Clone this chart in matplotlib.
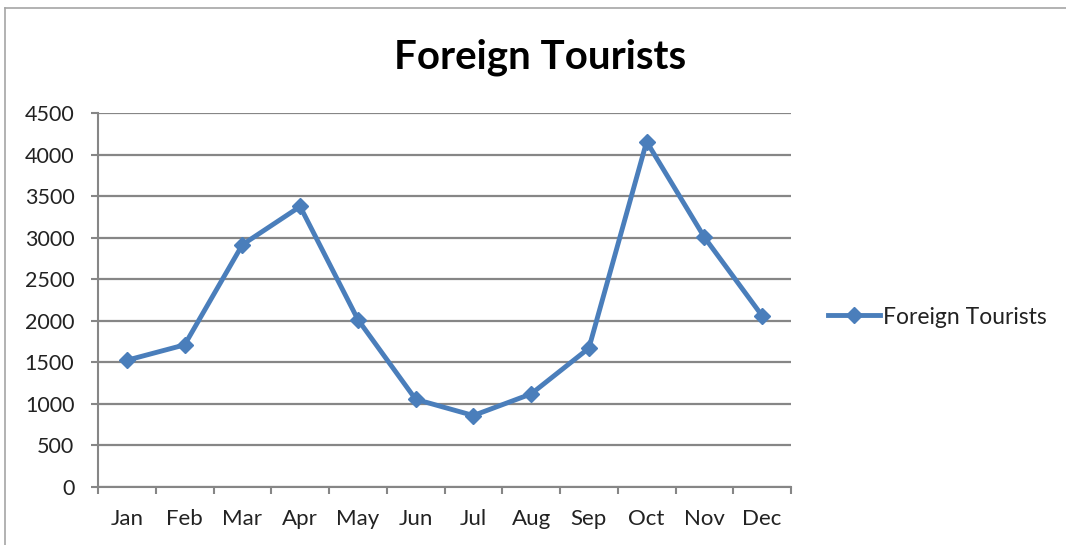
import matplotlib
matplotlib.use("Agg")
import matplotlib.pyplot as plt
from matplotlib.lines import Line2D
import numpy as np

months = ["Jan", "Feb", "Mar", "Apr", "May", "Jun", "Jul", "Aug", "Sep", "Oct", "Nov", "Dec"]
tourists = [1525, 1710, 2915, 3375, 2015, 1055, 860, 1120, 1670, 4155, 3005, 2060]
yticks = [0, 500, 1000, 1500, 2000, 2500, 3000, 3500, 4000, 4500]
series_name = "Foreign Tourists"
title = "Foreign Tourists"

plt.rcParams['font.family'] = ['Lato', 'DejaVu Sans']

W, H = 1066, 545
fig = plt.figure(figsize=(W / 100, H / 100), dpi=100)
ax = fig.add_axes([98 / W, 1 - 487 / H, (791 - 98) / W, (487 - 113) / H])

blue = "#4A7EBB"
grid = "#868686"
x = np.arange(len(months))
ax.plot(x, tourists, color=blue, lw=3.5, marker="D", ms=8.5, label=series_name,
        solid_joinstyle="miter", zorder=3)

ax.set_xlim(-0.5, len(months) - 0.5)
ax.set_ylim(yticks[0], yticks[-1])
ax.set_yticks(yticks)
ax.set_yticklabels([str(v) for v in yticks], fontsize=15.5, color="#222222")
ax.set_xticks(x)
ax.set_xticklabels(months, fontsize=16, color="#222222")
ax.set_xticks(np.arange(-0.5, len(months)), minor=True)
ax.tick_params(axis="x", which="major", length=0, pad=16)
ax.tick_params(axis="x", which="minor", length=5, width=1.5, color=grid, direction="out")
ax.tick_params(axis="y", length=5, width=1.5, color=grid, pad=12)

for s in ["top", "right"]:
    ax.spines[s].set_visible(False)
for s in ["left", "bottom"]:
    ax.spines[s].set_color(grid)
    ax.spines[s].set_linewidth(1.5)
ax.yaxis.grid(True, color=grid, lw=1.6)
ax.set_axisbelow(True)

fig.text(540 / W, 1 - 57 / H, title, ha="center", va="center", fontsize=29, fontweight="bold")

# chart border
fig.add_artist(Line2D([5 / W, 5 / W], [0, 1 - 8 / H], color="#a6a6a6", lw=1.2, transform=fig.transFigure))
fig.add_artist(Line2D([5 / W, 1], [1 - 8 / H, 1 - 8 / H], color="#a6a6a6", lw=1.2, transform=fig.transFigure))

leg = fig.legend(loc="center left", bbox_to_anchor=(828 / W, 1 - 317 / H), frameon=False,
                 fontsize=16.5, handlelength=2.27, handletextpad=0.15, borderpad=0, borderaxespad=0)
for t in leg.get_texts():
    t.set_color("#222222")

fig.savefig("out.png", dpi=100)
